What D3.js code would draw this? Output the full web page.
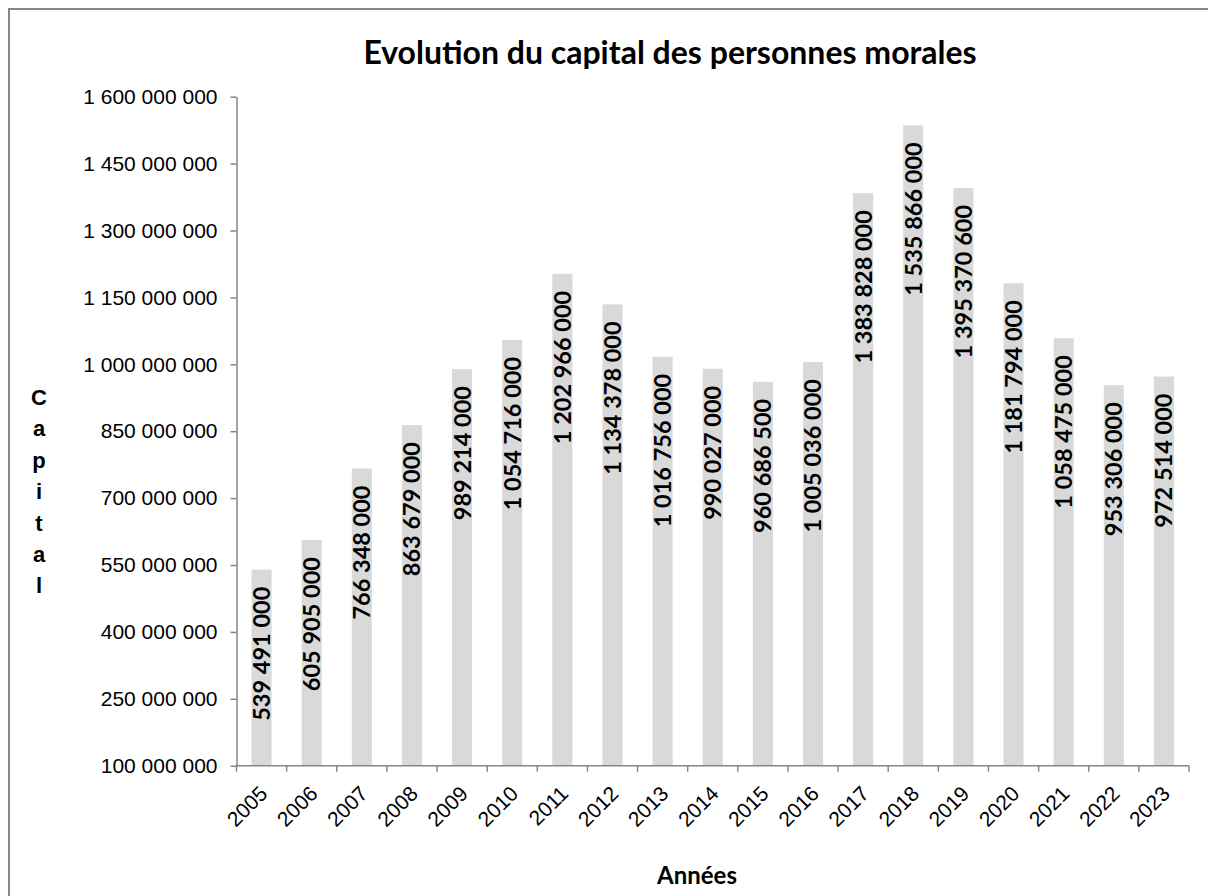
<!DOCTYPE html>
<html>
<head>
<meta charset="utf-8">
<script src="https://cdn.jsdelivr.net/npm/d3@7"></script>
<style>
  body { margin: 0; background: #fff; overflow: hidden; }
  svg { display: block; }
</style>
</head>
<body>
<svg id="chart"></svg>
<script>
// data
const years = ["2005", "2006", "2007", "2008", "2009", "2010", "2011", "2012", "2013", "2014",
               "2015", "2016", "2017", "2018", "2019", "2020", "2021", "2022", "2023"];
const capital = [539491000, 605905000, 766348000, 863679000, 989214000, 1054716000, 1202966000,
                 1134378000, 1016756000, 990027000, 960686500, 1005036000, 1383828000, 1535866000,
                 1395370600, 1181794000, 1058475000, 953306000, 972514000];
const yTicks = [100000000, 250000000, 400000000, 550000000, 700000000, 850000000,
                1000000000, 1150000000, 1300000000, 1450000000, 1600000000];

const width = 1208, height = 896;
const plot = { left: 236.5, right: 1189, top: 96.7, bottom: 765.7 };

const fr = d3.formatLocale({ decimal: ",", thousands: " ", grouping: [3], currency: ["", " €"] });
const fmt = fr.format(",d");

const svg = d3.select("#chart")
    .attr("width", width)
    .attr("height", height);

// chart border (runs off the right and bottom edges)
svg.append("rect")
    .attr("x", 9).attr("y", 9)
    .attr("width", 1220).attr("height", 910)
    .attr("fill", "#fff")
    .attr("stroke", "#868686")
    .attr("stroke-width", 2);

const x = d3.scaleBand()
    .domain(years)
    .range([plot.left, plot.right])
    .paddingInner(0.6)
    .paddingOuter(0.3);

const y = d3.scaleLinear()
    .domain([100000000, 1600000000])
    .range([plot.bottom, plot.top]);

// bars
svg.append("g")
    .selectAll("rect")
    .data(years)
    .join("rect")
    .attr("x", d => x(d))
    .attr("width", x.bandwidth())
    .attr("y", (d, i) => y(capital[i]))
    .attr("height", (d, i) => y(100000000) - y(capital[i]))
    .attr("fill", "#d9d9d9");

// value labels, vertical, inside the bar tops
svg.append("g")
    .attr("font-family", "Lato, 'Open Sans', sans-serif")
    .attr("font-weight", "bold")
    .attr("font-size", 23.5)
    .attr("fill", "#000")
    .selectAll("text")
    .data(years)
    .join("text")
    .attr("transform", (d, i) => `translate(${x(d) + x.bandwidth() / 2},${y(capital[i]) + 17}) rotate(-90)`)
    .attr("text-anchor", "end")
    .attr("dy", "0.36em")
    .text((d, i) => fmt(capital[i]));

// y axis
const yAxis = svg.append("g")
    .attr("transform", `translate(${plot.left},0)`)
    .call(d3.axisLeft(y).tickValues(yTicks).tickFormat(fmt).tickSize(6).tickSizeOuter(0).tickPadding(13));
yAxis.select(".domain").attr("stroke", "#868686").attr("stroke-width", 1.5);
yAxis.selectAll(".tick line").attr("stroke", "#868686").attr("stroke-width", 1.5);
yAxis.selectAll(".tick text")
    .attr("font-family", "'Liberation Sans', Arial, sans-serif")
    .attr("font-size", 21)
    .attr("fill", "#000");

// x axis: ticks sit between categories
const step = x.step();
const bounds = d3.range(years.length + 1).map(i => plot.left + i * step);
const xg = svg.append("g");
xg.append("line")
    .attr("x1", plot.left).attr("x2", plot.right)
    .attr("y1", plot.bottom).attr("y2", plot.bottom)
    .attr("stroke", "#868686").attr("stroke-width", 1.5);
xg.selectAll("line.tk")
    .data(bounds)
    .join("line")
    .attr("class", "tk")
    .attr("x1", d => d).attr("x2", d => d)
    .attr("y1", plot.bottom).attr("y2", plot.bottom + 6)
    .attr("stroke", "#868686").attr("stroke-width", 1.5);
xg.selectAll("text")
    .data(years)
    .join("text")
    .attr("transform", d => `translate(${x(d) + x.bandwidth() / 2 + 2},${plot.bottom + 24}) rotate(-45)`)
    .attr("text-anchor", "end")
    .attr("dy", "0.35em")
    .attr("font-family", "'Liberation Sans', Arial, sans-serif")
    .attr("font-size", 21)
    .attr("fill", "#000")
    .text(d => d);

// title
svg.append("text")
    .attr("x", 670).attr("y", 64)
    .attr("text-anchor", "middle")
    .attr("font-family", "Lato, 'Open Sans', sans-serif")
    .attr("font-weight", "bold")
    .attr("font-size", 32)
    .text("Evolution du capital des personnes morales");

// x axis title
svg.append("text")
    .attr("x", 697).attr("y", 884)
    .attr("text-anchor", "middle")
    .attr("font-family", "Lato, 'Open Sans', sans-serif")
    .attr("font-weight", "bold")
    .attr("font-size", 24)
    .text("Années");

// y axis title, stacked letters
svg.append("g")
    .selectAll("text")
    .data("Capital".split(""))
    .join("text")
    .attr("x", 39)
    .attr("y", (d, i) => 397 + i * 31.4)
    .attr("dy", "0.36em")
    .attr("text-anchor", "middle")
    .attr("font-family", "'Liberation Sans', Arial, sans-serif")
    .attr("font-weight", "bold")
    .attr("font-size", 22)
    .text(d => d);
</script>
</body>
</html>
